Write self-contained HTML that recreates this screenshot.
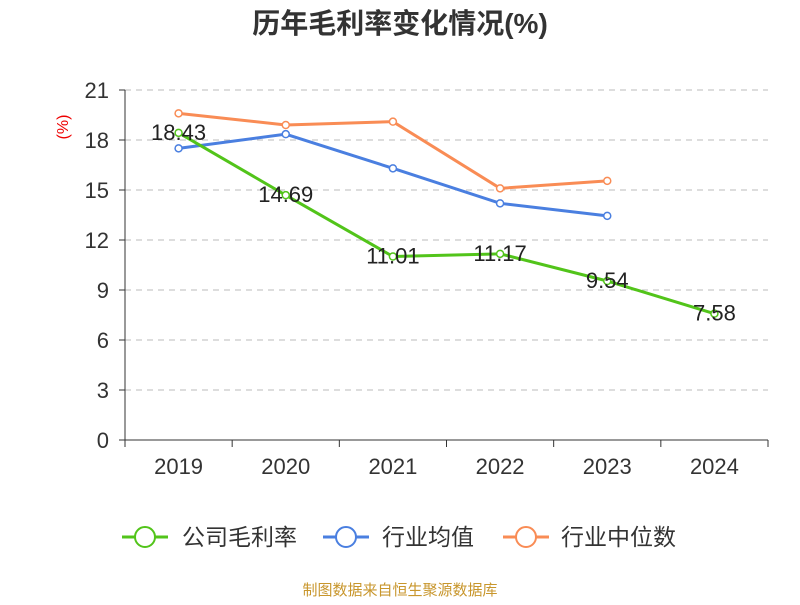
<!DOCTYPE html>
<html><head><meta charset="utf-8">
<style>
body{margin:0;background:#fff;}
svg text{font-family:"Liberation Sans","Noto Sans CJK SC",sans-serif;}
</style></head>
<body>
<svg id="chart" width="800" height="600" xmlns="http://www.w3.org/2000/svg">
<text x="400" y="33" text-anchor="middle" font-size="28" font-weight="bold" fill="#333">历年毛利率变化情况(%)</text>
<text transform="translate(68,127) rotate(-90)" text-anchor="middle" font-size="16" fill="#e00">(%)</text>
<g id="grid"></g><g id="axes"></g><g id="series"></g><g id="labels"></g>
<g>
<g><line x1="122" y1="537" x2="168" y2="537" stroke="#52c41a" stroke-width="3"/><circle cx="145" cy="537" r="10" fill="#fff" stroke="#52c41a" stroke-width="2"/><text x="182" y="545" font-size="23" fill="#333">公司毛利率</text></g>
<g><line x1="323" y1="537" x2="369" y2="537" stroke="#4a7fe0" stroke-width="3"/><circle cx="346" cy="537" r="10" fill="#fff" stroke="#4a7fe0" stroke-width="2"/><text x="382" y="545" font-size="23" fill="#333">行业均值</text></g>
<g><line x1="503" y1="537" x2="549" y2="537" stroke="#f98c55" stroke-width="3"/><circle cx="526" cy="537" r="10" fill="#fff" stroke="#f98c55" stroke-width="2"/><text x="561" y="545" font-size="23" fill="#333">行业中位数</text></g>
</g>
<text x="400" y="595" text-anchor="middle" font-size="15" fill="#c8962c">制图数据来自恒生聚源数据库</text>
</svg>
<script>
const categories=["2019","2020","2021","2022","2023","2024"];
const companyValues=[18.43,14.69,11.01,11.17,9.54,7.58];
const industryAvg=[17.5,18.35,16.3,14.2,13.45];
const industryMedian=[19.6,18.9,19.1,15.1,15.55];
const yTicks=[0,3,6,9,12,15,18,21];
const NS="http://www.w3.org/2000/svg";
const x0=125,x1=768,y0=440,yTop=90,yMax=21;
const bw=(x1-x0)/categories.length;
function xs(i){return x0+bw*(i+0.5);}
function ys(v){return y0-(v/yMax)*(y0-yTop);}
function mk(tag,attrs,parent){const e=document.createElementNS(NS,tag);for(const k in attrs)e.setAttribute(k,attrs[k]);document.getElementById(parent).appendChild(e);return e;}
yTicks.forEach(t=>{
  if(t>0){const g=mk('line',{x1:x0,x2:x1,y1:ys(t),y2:ys(t),stroke:'#bbb','stroke-dasharray':'6,5'},'grid');
  
  }
  const tk=mk('line',{x1:x0-6,x2:x0,y1:ys(t),y2:ys(t),stroke:'#333'},'axes');
  
  
  const l=mk('text',{x:x0-16,y:ys(t)+8,'text-anchor':'end','font-size':'22',fill:'#333'},'axes');l.textContent=t;
  
  
});
const ya=mk('line',{x1:x0,x2:x0,y1:yTop,y2:y0,stroke:'#333'},'axes');


const xa=mk('line',{x1:x0,x2:x1,y1:y0,y2:y0,stroke:'#333'},'axes');


for(let i=0;i<=categories.length;i++){const t=mk('line',{x1:x0+bw*i,x2:x0+bw*i,y1:y0,y2:y0+7,stroke:'#333'},'axes');

}
categories.forEach((c,i)=>{const l=mk('text',{x:xs(i),y:474,'text-anchor':'middle','font-size':'22',fill:'#333'},'axes');l.textContent=c;

});
function series(vals,color,name){
  const p=mk('polyline',{points:vals.map((v,i)=>xs(i)+','+ys(v)).join(' '),fill:'none',stroke:color,'stroke-width':3},'series');
  
  
  vals.forEach((v,i)=>{const c=mk('circle',{cx:xs(i),cy:ys(v),r:3.5,fill:'#fff',stroke:color,'stroke-width':1.5},'series');
  
  });
}
series(industryMedian,'#f98c55','industry-median');
series(industryAvg,'#4a7fe0','industry-avg');
series(companyValues,'#52c41a','company');
companyValues.forEach((v,i)=>{const l=mk('text',{x:xs(i),y:ys(v)+7,'text-anchor':'middle','font-size':'22',fill:'#222'},'labels');l.textContent=v.toFixed(2);

});
</script>
</body></html>
